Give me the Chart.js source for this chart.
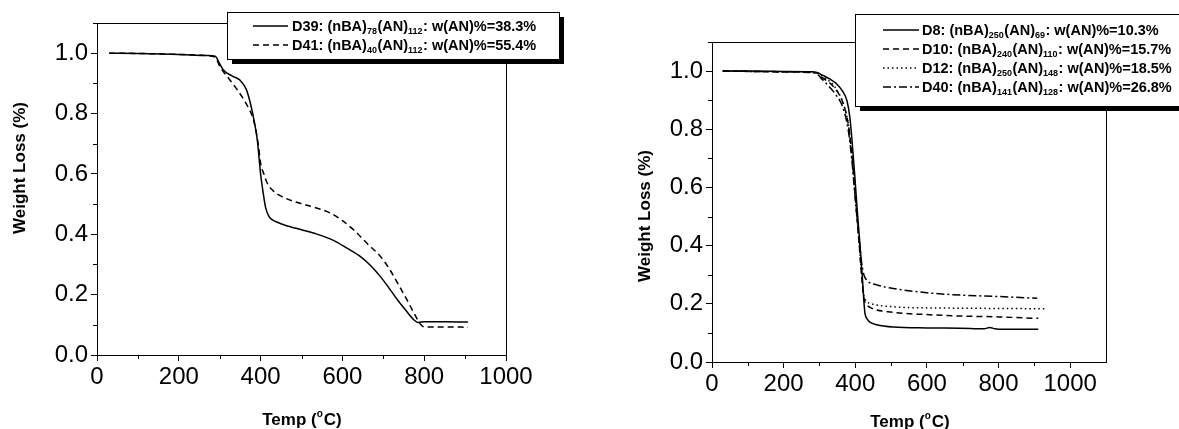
<!DOCTYPE html>
<html><head><meta charset="utf-8">
<script src="https://cdn.jsdelivr.net/npm/chart.js@4.4.1/dist/chart.umd.min.js"></script>
<style>
html,body{margin:0;padding:0;background:#fff;width:1179px;height:429px;overflow:hidden}
#w1{position:absolute;left:0;top:0;width:590px;height:429px}
#w2{position:absolute;left:590px;top:0;width:589px;height:429px}
</style></head><body>
<div id="w1"><canvas id="c1" width="590" height="429"></canvas></div>
<div id="w2"><canvas id="c2" width="589" height="429"></canvas></div>
<script>
const FONT = "'Liberation Sans', Arial, Helvetica, sans-serif";

// ---- Left panel data ----
const d39Temp = [30, 100, 200, 270, 289, 300, 309, 330, 350, 365, 375, 385, 392, 400, 406, 412, 420, 430, 441, 460, 500, 529, 578, 610, 645, 670, 694, 715, 735, 755, 775, 785, 800, 850, 907];
const d39Loss = [1.0, 0.999, 0.996, 0.992, 0.99, 0.965, 0.944, 0.925, 0.91, 0.88, 0.834, 0.77, 0.712, 0.60, 0.54, 0.49, 0.46, 0.447, 0.44, 0.43, 0.415, 0.404, 0.38, 0.355, 0.325, 0.295, 0.258, 0.22, 0.182, 0.148, 0.116, 0.108, 0.11, 0.11, 0.109];
const d41Temp = [30, 100, 200, 270, 290, 301, 320, 338, 355, 370, 380, 387, 395, 400, 408, 416, 430, 449, 490, 529, 571, 600, 628, 660, 694, 715, 735, 755, 775, 792, 800, 850, 907];
const d41Loss = [1.0, 0.999, 0.996, 0.992, 0.985, 0.954, 0.92, 0.888, 0.855, 0.82, 0.79, 0.755, 0.69, 0.636, 0.6, 0.57, 0.545, 0.527, 0.505, 0.49, 0.47, 0.445, 0.414, 0.37, 0.325, 0.285, 0.238, 0.19, 0.139, 0.1, 0.093, 0.093, 0.092];

// ---- Right panel data ----
const d8Temp = [30, 100, 200, 280, 293, 310, 330, 349, 365, 377, 385, 391, 398, 405, 412, 419, 424, 427, 433, 441, 460, 506, 600, 693, 760, 775, 790, 800, 911];
const d8Loss = [1.0, 1.0, 0.999, 0.998, 0.995, 0.985, 0.972, 0.955, 0.93, 0.897, 0.84, 0.76, 0.65, 0.53, 0.42, 0.305, 0.21, 0.168, 0.148, 0.137, 0.128, 0.12, 0.117, 0.116, 0.114, 0.119, 0.114, 0.113, 0.113];
const d10Temp = [30, 100, 200, 290, 310, 340, 366, 380, 390, 400, 410, 418, 424, 430, 441, 506, 600, 693, 800, 911];
const d10Loss = [1.0, 0.999, 0.997, 0.994, 0.976, 0.945, 0.89, 0.82, 0.72, 0.57, 0.42, 0.29, 0.22, 0.2, 0.188, 0.171, 0.163, 0.158, 0.155, 0.15];
const d12Temp = [30, 100, 200, 290, 310, 340, 366, 380, 390, 400, 410, 418, 424, 430, 441, 506, 600, 693, 800, 936];
const d12Loss = [1.0, 0.999, 0.998, 0.995, 0.98, 0.95, 0.89, 0.82, 0.72, 0.57, 0.42, 0.30, 0.23, 0.21, 0.202, 0.19, 0.186, 0.185, 0.184, 0.183];
const d40Temp = [30, 100, 200, 290, 305, 321, 345, 366, 380, 390, 400, 410, 418, 424, 433, 460, 506, 600, 693, 800, 908];
const d40Loss = [1.0, 0.999, 0.998, 0.993, 0.975, 0.955, 0.92, 0.873, 0.80, 0.70, 0.56, 0.43, 0.34, 0.30, 0.28, 0.265, 0.253, 0.238, 0.23, 0.225, 0.219];

// ---- Tick labels ----
const yTickLabels = ['0.0', '0.2', '0.4', '0.6', '0.8', '1.0'];
const xTickLabels = ['0', '200', '400', '600', '800', '1000'];

// ---- Text ----
const yTitle = 'Weight Loss (%)';
const xTitleParts = ['Temp (', 'o', 'C)'];
const leftLegend = [
  ['D39: (nBA)', '78', '(AN)', '112', ': w(AN)%=38.3%'],
  ['D41: (nBA)', '40', '(AN)', '112', ': w(AN)%=55.4%']
];
const rightLegend = [
  ['D8: (nBA)', '250', '(AN)', '69', ': w(AN)%=10.3%'],
  ['D10: (nBA)', '240', '(AN)', '110', ': w(AN)%=15.7%'],
  ['D12: (nBA)', '250', '(AN)', '148', ': w(AN)%=18.5%'],
  ['D40: (nBA)', '141', '(AN)', '128', ': w(AN)%=26.8%']
];

const DASHES = { solid: [], dash: [6, 4], dot: [1.5, 3], dashdot: [8, 3, 2, 3] };

function pts(t, v) { return t.map((x, i) => ({ x: x, y: v[i] })); }
function ds(t, v, style) {
  return { data: pts(t, v), borderColor: '#000', borderWidth: 1.5, borderDash: DASHES[style],
    pointRadius: 0, tension: 0.3, cubicInterpolationMode: 'monotone', fill: false };
}

function decorPlugin(cfg) {
  return {
    id: 'decor',
    afterDatasetsDraw(chart) {
      const ctx = chart.ctx, a = chart.chartArea;
      const xs = chart.scales.x, ys = chart.scales.y;
      ctx.save();
      ctx.strokeStyle = '#000'; ctx.lineWidth = 1; ctx.setLineDash([]);
      ctx.strokeRect(Math.round(a.left) + 0.5, Math.round(a.top) + 0.5, Math.round(a.right - a.left), Math.round(a.bottom - a.top));
      ctx.beginPath();
      for (let v = 100; v < cfg.xMax; v += 200) {
        const px = Math.round(xs.getPixelForValue(v)) + 0.5;
        ctx.moveTo(px, a.bottom); ctx.lineTo(px, a.bottom + 4);
      }
      for (let k = 1; k <= 11; k += 2) {
        const py = Math.round(ys.getPixelForValue(k / 10)) + 0.5;
        ctx.moveTo(a.left, py); ctx.lineTo(a.left - 4, py);
      }
      ctx.stroke();
      ctx.restore();
    },
    afterDraw(chart) {
      const ctx = chart.ctx;
      ctx.save();
      ctx.fillStyle = '#000';
      ctx.font = 'bold 17px ' + FONT;
      ctx.textAlign = 'center'; ctx.textBaseline = 'middle';
      ctx.save();
      ctx.translate(cfg.yTitle[0], cfg.yTitle[1]);
      ctx.rotate(-Math.PI / 2);
      ctx.fillText(yTitle, 0, 0);
      ctx.restore();
      ctx.textAlign = 'left'; ctx.textBaseline = 'alphabetic';
      ctx.font = 'bold 17px ' + FONT;
      const w1 = ctx.measureText(xTitleParts[0]).width;
      const w3 = ctx.measureText(xTitleParts[2]).width;
      ctx.font = 'bold 10px ' + FONT;
      const w2 = ctx.measureText(xTitleParts[1]).width + 1;
      let x = cfg.xTitle[0] - (w1 + w2 + w3) / 2;
      const base = cfg.xTitle[1] + 6;
      ctx.font = 'bold 17px ' + FONT; ctx.fillText(xTitleParts[0], x, base); x += w1;
      ctx.font = 'bold 10px ' + FONT; ctx.fillText(xTitleParts[1], x, base - 8); x += w2;
      ctx.font = 'bold 17px ' + FONT; ctx.fillText(xTitleParts[2], x, base);
      const b = cfg.legend;
      ctx.fillStyle = '#000';
      ctx.fillRect(b.x + 5, b.y + 5, b.w, b.h);
      ctx.fillStyle = '#fff';
      ctx.fillRect(b.x, b.y, b.w, b.h);
      ctx.strokeStyle = '#000'; ctx.lineWidth = 1;
      ctx.strokeRect(b.x + 0.5, b.y + 0.5, b.w, b.h);
      b.rows.forEach((r, i) => {
        const y = b.rowY[i];
        ctx.save();
        ctx.setLineDash(DASHES[b.styles[i]]);
        ctx.lineWidth = 1.5;
        ctx.beginPath(); ctx.moveTo(b.lx1, y); ctx.lineTo(b.lx2, y); ctx.stroke();
        ctx.restore();
        let tx = b.tx;
        const bl = y + 5;
        r.forEach((part, j) => {
          const sub = (j % 2 === 1);
          ctx.font = sub ? 'bold 9px ' + FONT : 'bold 14.5px ' + FONT;
          ctx.fillStyle = '#000';
          ctx.fillText(part, tx, sub ? bl + 3 : bl);
          tx += ctx.measureText(part).width + (sub ? 0.5 : 0);
        });
      });
      ctx.restore();
    }
  };
}

function makeChart(id, datasets, cfg) {
  return new Chart(document.getElementById(id), {
    type: 'line',
    data: { datasets: datasets },
    plugins: [decorPlugin(cfg)],
    options: {
      responsive: false, animation: false, events: [],
      layout: { padding: { left: 0, top: cfg.top, right: cfg.right, bottom: 0 } },
      plugins: { legend: { display: false }, tooltip: { enabled: false } },
      scales: {
        x: {
          type: 'linear', min: 0, max: cfg.xMax,
          afterFit(s) { s.height = cfg.xH; },
          border: { display: true, color: '#000', width: 1 },
          grid: { display: true, drawOnChartArea: false, drawTicks: true, tickLength: 6,
            tickColor: c => (c.tick && xTickLabels.includes(String(c.tick.value))) ? '#000' : 'rgba(0,0,0,0)' },
          ticks: { stepSize: 100, autoSkip: false, maxRotation: 0, padding: 2, color: '#000',
            font: { family: FONT, size: 24 },
            callback: v => xTickLabels.includes(String(v)) ? String(v) : '' }
        },
        y: {
          type: 'linear', min: 0, max: 1.1,
          afterFit(s) { s.width = cfg.yW; },
          border: { display: true, color: '#000', width: 1 },
          grid: { display: true, drawOnChartArea: false, drawTicks: true, tickLength: 6,
            tickColor: c => (c.tick && yTickLabels.includes(c.tick.value.toFixed(1))) ? '#000' : 'rgba(0,0,0,0)' },
          ticks: { stepSize: 0.1, autoSkip: false, padding: 3, color: '#000',
            font: { family: FONT, size: 24 },
            callback: v => yTickLabels.includes(Number(v).toFixed(1)) ? Number(v).toFixed(1) : '' }
        }
      }
    }
  });
}

makeChart('c1', [
  ds(d39Temp, d39Loss, 'solid'),
  ds(d41Temp, d41Loss, 'dash')
], {
  xMax: 1000, top: 23, right: 84, xH: 74, yW: 97,
  yTitle: [20, 168], xTitle: [302, 419],
  legend: { x: 227, y: 12, w: 332, h: 47, rowY: [26, 45], lx1: 253, lx2: 288, tx: 292,
    rows: leftLegend, styles: ['solid', 'dash'] }
});

makeChart('c2', [
  ds(d8Temp, d8Loss, 'solid'),
  ds(d10Temp, d10Loss, 'dash'),
  ds(d12Temp, d12Loss, 'dot'),
  ds(d40Temp, d40Loss, 'dashdot')
], {
  xMax: 1100, top: 42, right: 73, xH: 67, yW: 122,
  yTitle: [55, 216], xTitle: [320, 421],
  legend: { x: 265, y: 14, w: 340, h: 92, rowY: [30, 49, 68, 87], lx1: 293, lx2: 329, tx: 332,
    rows: rightLegend, styles: ['solid', 'dash', 'dot', 'dashdot'] }
});
</script>
</body></html>
